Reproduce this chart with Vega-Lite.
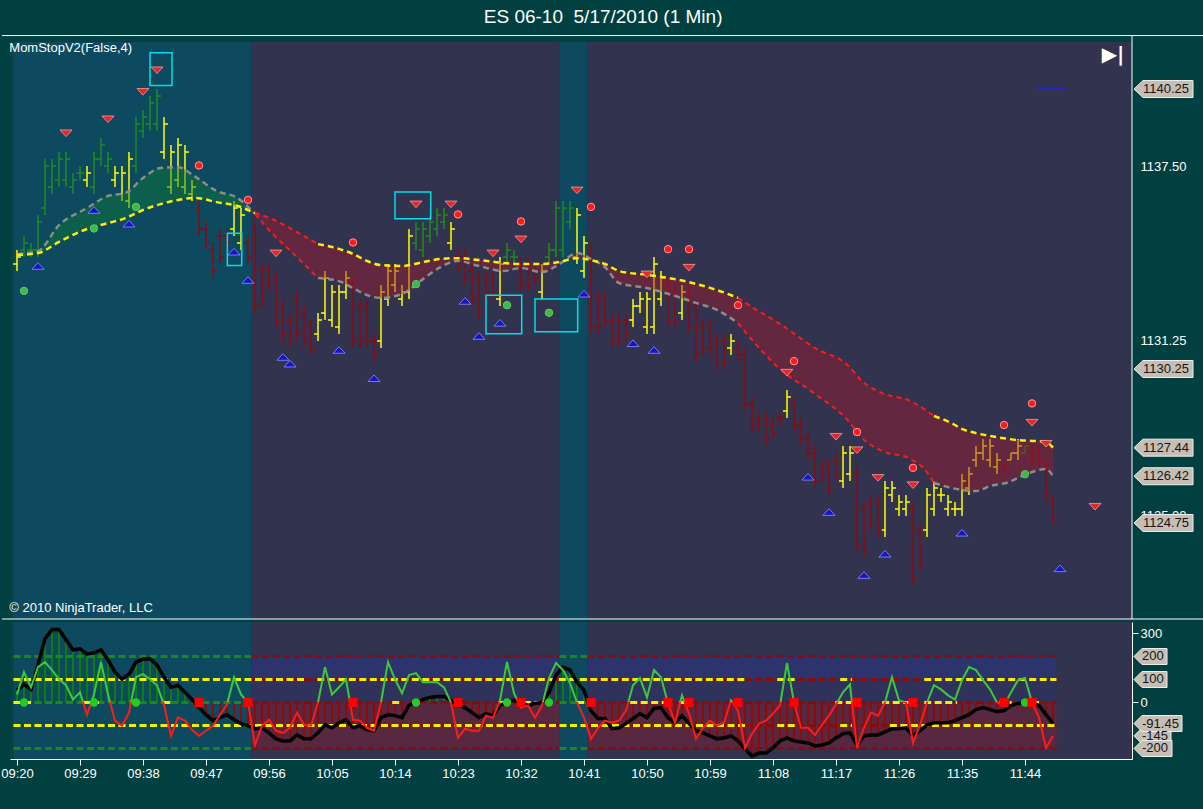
{
  "$schema": "https://vega.github.io/schema/vega-lite/v6.json",
  "description": "ES 06-10 1 minute bars with MomStopV2 bands and oscillator",
  "background": "#004040",
  "padding": {"left": 0, "top": 8, "right": 0, "bottom": 30},
  "title": {
    "text": "ES 06-10\u00a0 5/17/2010 (1 Min)",
    "color": "#ffffff",
    "font": "Liberation Sans",
    "fontSize": 19,
    "fontWeight": "normal",
    "anchor": "middle",
    "frame": "bounds",
    "offset": 8
  },
  "config": {
    "view": {"stroke": null},
    "font": "Liberation Sans",
    "axis": {
      "labelColor": "#ffffff",
      "tickColor": "#ffffff",
      "domainColor": "#ffffff",
      "labelFont": "Liberation Sans",
      "labelFontSize": 13,
      "grid": false
    }
  },
  "spacing": 2,
  "datasets": {
    "bg": [
      {"a": -1, "b": -0.5, "k": "p"},
      {"a": -0.5, "b": 33.5, "k": "t"},
      {"a": 33.5, "b": 77.5, "k": "s"},
      {"a": 77.5, "b": 81.5, "k": "t"},
      {"a": 81.5, "b": 159.2857, "k": "s"}
    ],
    "bars": [
      {"i":0,"o":1134,"h":1134.5,"l":1133.75,"c":1134.25,"k":"y"},
      {"i":1,"o":1134.5,"h":1135,"l":1134.25,"c":1134.75,"k":"g"},
      {"i":2,"o":1134.5,"h":1134.75,"l":1134.25,"c":1134.5,"k":"g"},
      {"i":3,"o":1134.5,"h":1135.75,"l":1134.25,"c":1135.5,"k":"g"},
      {"i":4,"o":1136,"h":1137.75,"l":1135.75,"c":1137.5,"k":"g"},
      {"i":5,"o":1136.75,"h":1137.75,"l":1136.5,"c":1137.5,"k":"g"},
      {"i":6,"o":1137,"h":1138,"l":1136.75,"c":1137.75,"k":"g"},
      {"i":7,"o":1137,"h":1138,"l":1136.75,"c":1137.75,"k":"g"},
      {"i":8,"o":1136.75,"h":1137.25,"l":1136.5,"c":1137,"k":"g"},
      {"i":9,"o":1137.25,"h":1137.5,"l":1137,"c":1137.25,"k":"g"},
      {"i":10,"o":1137,"h":1137.5,"l":1136.75,"c":1137.25,"k":"y"},
      {"i":11,"o":1136.75,"h":1138,"l":1136.5,"c":1137.75,"k":"g"},
      {"i":12,"o":1137.75,"h":1138.5,"l":1137.5,"c":1138.25,"k":"g"},
      {"i":13,"o":1137.5,"h":1138,"l":1137.25,"c":1137.75,"k":"g"},
      {"i":14,"o":1137,"h":1137.5,"l":1136.75,"c":1137.25,"k":"y"},
      {"i":15,"o":1136.5,"h":1137.5,"l":1136.25,"c":1137.25,"k":"y"},
      {"i":16,"o":1136.25,"h":1138,"l":1136,"c":1137.75,"k":"y"},
      {"i":17,"o":1137.5,"h":1139.25,"l":1137.25,"c":1139,"k":"g"},
      {"i":18,"o":1138.75,"h":1139.5,"l":1138.5,"c":1139.25,"k":"g"},
      {"i":19,"o":1139,"h":1140,"l":1138.75,"c":1139.75,"k":"g"},
      {"i":20,"o":1139,"h":1140.25,"l":1138.75,"c":1140,"k":"g"},
      {"i":21,"o":1138,"h":1139.25,"l":1137.75,"c":1139,"k":"y"},
      {"i":22,"o":1136.75,"h":1138.25,"l":1136.5,"c":1138,"k":"y"},
      {"i":23,"o":1137,"h":1138.5,"l":1136.75,"c":1138.25,"k":"y"},
      {"i":24,"o":1136.75,"h":1138.25,"l":1136.5,"c":1138,"k":"y"},
      {"i":25,"o":1136.5,"h":1137,"l":1136.25,"c":1136.75,"k":"y"},
      {"i":26,"o":1136,"h":1136.25,"l":1135,"c":1135.25,"k":"r"},
      {"i":27,"o":1135.25,"h":1135.5,"l":1134.5,"c":1134.75,"k":"r"},
      {"i":28,"o":1134.5,"h":1134.75,"l":1133.5,"c":1133.75,"k":"r"},
      {"i":29,"o":1135,"h":1135.25,"l":1134,"c":1134.25,"k":"r"},
      {"i":30,"o":1135,"h":1135.25,"l":1134.5,"c":1134.75,"k":"r"},
      {"i":31,"o":1135.25,"h":1136.25,"l":1135,"c":1136,"k":"y"},
      {"i":32,"o":1134.75,"h":1136,"l":1134.5,"c":1135.75,"k":"y"},
      {"i":33,"o":1134.75,"h":1135,"l":1134,"c":1134.25,"k":"r"},
      {"i":34,"o":1135.25,"h":1135.5,"l":1132.25,"c":1132.5,"k":"r"},
      {"i":35,"o":1133.75,"h":1134,"l":1132.5,"c":1132.75,"k":"r"},
      {"i":36,"o":1133.75,"h":1134,"l":1133,"c":1133.25,"k":"r"},
      {"i":37,"o":1133.5,"h":1133.75,"l":1131.75,"c":1132,"k":"r"},
      {"i":38,"o":1132.5,"h":1132.75,"l":1131.25,"c":1131.5,"k":"r"},
      {"i":39,"o":1132,"h":1132.25,"l":1131,"c":1131.25,"k":"r"},
      {"i":40,"o":1132.75,"h":1133,"l":1131.25,"c":1131.5,"k":"r"},
      {"i":41,"o":1132.25,"h":1132.5,"l":1131,"c":1131.25,"k":"r"},
      {"i":42,"o":1131.75,"h":1132,"l":1130.75,"c":1131,"k":"r"},
      {"i":43,"o":1131.5,"h":1132.25,"l":1131.25,"c":1132,"k":"y"},
      {"i":44,"o":1132.25,"h":1133.75,"l":1132,"c":1133.5,"k":"y"},
      {"i":45,"o":1132,"h":1133.25,"l":1131.75,"c":1133,"k":"y"},
      {"i":46,"o":1131.75,"h":1133.25,"l":1131.5,"c":1133,"k":"y"},
      {"i":47,"o":1133,"h":1133.75,"l":1132.75,"c":1133.5,"k":"y"},
      {"i":48,"o":1133.25,"h":1133.5,"l":1131,"c":1131.25,"k":"r"},
      {"i":49,"o":1132.5,"h":1132.75,"l":1131,"c":1131.25,"k":"r"},
      {"i":50,"o":1132.5,"h":1132.75,"l":1131,"c":1131.25,"k":"r"},
      {"i":51,"o":1131.25,"h":1131.5,"l":1130.5,"c":1130.75,"k":"r"},
      {"i":52,"o":1131.25,"h":1133.25,"l":1131,"c":1133,"k":"y"},
      {"i":53,"o":1132.75,"h":1134,"l":1132.5,"c":1133.75,"k":"y"},
      {"i":54,"o":1133.25,"h":1134,"l":1133,"c":1133.75,"k":"y"},
      {"i":55,"o":1132.75,"h":1133.25,"l":1132.5,"c":1133,"k":"y"},
      {"i":56,"o":1133,"h":1135.25,"l":1132.75,"c":1135,"k":"y"},
      {"i":57,"o":1134.75,"h":1135.5,"l":1134.5,"c":1135.25,"k":"g"},
      {"i":58,"o":1134.5,"h":1135.5,"l":1134.25,"c":1135.25,"k":"g"},
      {"i":59,"o":1135,"h":1135.75,"l":1134.75,"c":1135.5,"k":"g"},
      {"i":60,"o":1135.25,"h":1136,"l":1135,"c":1135.75,"k":"g"},
      {"i":61,"o":1135.5,"h":1136,"l":1135.25,"c":1135.75,"k":"g"},
      {"i":62,"o":1134.75,"h":1135.5,"l":1134.5,"c":1135.25,"k":"y"},
      {"i":63,"o":1134.25,"h":1134.5,"l":1133.75,"c":1134,"k":"r"},
      {"i":64,"o":1134.25,"h":1134.5,"l":1133.25,"c":1133.5,"k":"r"},
      {"i":65,"o":1133.75,"h":1134,"l":1132.5,"c":1132.75,"k":"r"},
      {"i":66,"o":1133.5,"h":1133.75,"l":1132,"c":1132.25,"k":"r"},
      {"i":67,"o":1133.5,"h":1133.75,"l":1132.75,"c":1133,"k":"r"},
      {"i":68,"o":1133.5,"h":1133.75,"l":1132.75,"c":1133,"k":"r"},
      {"i":69,"o":1132.75,"h":1134.25,"l":1132.5,"c":1134,"k":"y"},
      {"i":70,"o":1134.25,"h":1134.75,"l":1134,"c":1134.5,"k":"g"},
      {"i":71,"o":1134.25,"h":1134.5,"l":1134,"c":1134.25,"k":"g"},
      {"i":72,"o":1134,"h":1134.25,"l":1133,"c":1133.25,"k":"r"},
      {"i":73,"o":1134,"h":1134.25,"l":1133,"c":1133.25,"k":"r"},
      {"i":74,"o":1133.75,"h":1134,"l":1133.25,"c":1133.5,"k":"r"},
      {"i":75,"o":1133,"h":1134,"l":1132.75,"c":1133.75,"k":"y"},
      {"i":76,"o":1134.25,"h":1134.75,"l":1134,"c":1134.5,"k":"g"},
      {"i":77,"o":1134.5,"h":1136.25,"l":1134.25,"c":1136,"k":"g"},
      {"i":78,"o":1134.5,"h":1136.25,"l":1134.25,"c":1136,"k":"g"},
      {"i":79,"o":1135.5,"h":1136.25,"l":1135.25,"c":1136,"k":"g"},
      {"i":80,"o":1134.25,"h":1136,"l":1134,"c":1135.75,"k":"y"},
      {"i":81,"o":1133.75,"h":1135,"l":1133.5,"c":1134.75,"k":"y"},
      {"i":82,"o":1134.5,"h":1134.75,"l":1131.5,"c":1131.75,"k":"r"},
      {"i":83,"o":1132.75,"h":1133,"l":1131.5,"c":1131.75,"k":"r"},
      {"i":84,"o":1132.75,"h":1133,"l":1131.75,"c":1132,"k":"r"},
      {"i":85,"o":1132,"h":1132.25,"l":1131,"c":1131.25,"k":"r"},
      {"i":86,"o":1132,"h":1132.25,"l":1131,"c":1131.25,"k":"r"},
      {"i":87,"o":1132,"h":1132.25,"l":1131.25,"c":1131.5,"k":"r"},
      {"i":88,"o":1132,"h":1132.75,"l":1131.75,"c":1132.5,"k":"y"},
      {"i":89,"o":1132.5,"h":1133,"l":1132.25,"c":1132.75,"k":"y"},
      {"i":90,"o":1131.75,"h":1133,"l":1131.5,"c":1132.75,"k":"y"},
      {"i":91,"o":1131.75,"h":1134.25,"l":1131.5,"c":1134,"k":"y"},
      {"i":92,"o":1132.75,"h":1133.75,"l":1132.5,"c":1133.5,"k":"y"},
      {"i":93,"o":1133.25,"h":1133.5,"l":1131.75,"c":1132,"k":"r"},
      {"i":94,"o":1133,"h":1133.25,"l":1131.75,"c":1132,"k":"r"},
      {"i":95,"o":1132.25,"h":1133.25,"l":1132,"c":1133,"k":"y"},
      {"i":96,"o":1133,"h":1133.25,"l":1131.5,"c":1131.75,"k":"r"},
      {"i":97,"o":1132.5,"h":1132.75,"l":1130.5,"c":1130.75,"k":"r"},
      {"i":98,"o":1131.75,"h":1132,"l":1130.75,"c":1131,"k":"r"},
      {"i":99,"o":1131.75,"h":1132,"l":1130.75,"c":1131,"k":"r"},
      {"i":100,"o":1131.25,"h":1131.5,"l":1130.25,"c":1130.5,"k":"r"},
      {"i":101,"o":1131.25,"h":1131.5,"l":1130.25,"c":1130.5,"k":"r"},
      {"i":102,"o":1131,"h":1131.5,"l":1130.75,"c":1131.25,"k":"y"},
      {"i":103,"o":1131,"h":1131.25,"l":1130.5,"c":1130.75,"k":"r"},
      {"i":104,"o":1130.75,"h":1131,"l":1128.75,"c":1129,"k":"r"},
      {"i":105,"o":1129,"h":1129.25,"l":1128,"c":1128.25,"k":"r"},
      {"i":106,"o":1128.5,"h":1128.75,"l":1128,"c":1128.25,"k":"r"},
      {"i":107,"o":1128.5,"h":1128.75,"l":1127.5,"c":1127.75,"k":"r"},
      {"i":108,"o":1128.25,"h":1128.5,"l":1127.75,"c":1128,"k":"r"},
      {"i":109,"o":1128.5,"h":1128.75,"l":1128.25,"c":1128.5,"k":"r"},
      {"i":110,"o":1128.75,"h":1129.5,"l":1128.5,"c":1129.25,"k":"y"},
      {"i":111,"o":1129,"h":1129.25,"l":1128,"c":1128.25,"k":"r"},
      {"i":112,"o":1128.25,"h":1128.5,"l":1127.5,"c":1127.75,"k":"r"},
      {"i":113,"o":1127.75,"h":1128,"l":1127,"c":1127.25,"k":"r"},
      {"i":114,"o":1127.25,"h":1127.5,"l":1126,"c":1126.25,"k":"r"},
      {"i":115,"o":1126.75,"h":1127,"l":1126.25,"c":1126.5,"k":"r"},
      {"i":116,"o":1126.75,"h":1127,"l":1125.75,"c":1126,"k":"r"},
      {"i":117,"o":1127,"h":1127.25,"l":1126.25,"c":1126.5,"k":"r"},
      {"i":118,"o":1126.25,"h":1127.5,"l":1126,"c":1127.25,"k":"y"},
      {"i":119,"o":1126.5,"h":1127.5,"l":1126.25,"c":1127.25,"k":"y"},
      {"i":120,"o":1126.5,"h":1126.75,"l":1123.75,"c":1124,"k":"r"},
      {"i":121,"o":1125.25,"h":1125.5,"l":1123.5,"c":1123.75,"k":"r"},
      {"i":122,"o":1125.5,"h":1125.75,"l":1124.5,"c":1124.75,"k":"r"},
      {"i":123,"o":1125.5,"h":1125.75,"l":1124.25,"c":1124.5,"k":"r"},
      {"i":124,"o":1124.5,"h":1126.25,"l":1124.25,"c":1126,"k":"y"},
      {"i":125,"o":1125.75,"h":1126.25,"l":1125.5,"c":1126,"k":"y"},
      {"i":126,"o":1125.25,"h":1125.75,"l":1125,"c":1125.5,"k":"y"},
      {"i":127,"o":1125.25,"h":1125.75,"l":1125,"c":1125.5,"k":"y"},
      {"i":128,"o":1125.25,"h":1125.5,"l":1122.5,"c":1122.75,"k":"r"},
      {"i":129,"o":1124.5,"h":1124.75,"l":1123,"c":1123.25,"k":"r"},
      {"i":130,"o":1124.5,"h":1126,"l":1124.25,"c":1125.75,"k":"y"},
      {"i":131,"o":1125.25,"h":1126.25,"l":1125,"c":1126,"k":"y"},
      {"i":132,"o":1125.75,"h":1126,"l":1125.5,"c":1125.75,"k":"y"},
      {"i":133,"o":1125.25,"h":1125.75,"l":1125,"c":1125.5,"k":"y"},
      {"i":134,"o":1125.25,"h":1125.5,"l":1125,"c":1125.25,"k":"y"},
      {"i":135,"o":1125.25,"h":1126.5,"l":1125,"c":1126.25,"k":"y"},
      {"i":136,"o":1126,"h":1126.75,"l":1125.75,"c":1126.5,"k":"y"},
      {"i":137,"o":1127,"h":1127.5,"l":1126.75,"c":1127.25,"k":"y"},
      {"i":138,"o":1127.25,"h":1127.75,"l":1127,"c":1127.5,"k":"y"},
      {"i":139,"o":1127,"h":1127.75,"l":1126.75,"c":1127.5,"k":"y"},
      {"i":140,"o":1126.75,"h":1127.25,"l":1126.5,"c":1127,"k":"y"},
      {"i":141,"o":1126.75,"h":1127,"l":1126.5,"c":1126.75,"k":"r"},
      {"i":142,"o":1127,"h":1127.25,"l":1127,"c":1127.25,"k":"y"},
      {"i":143,"o":1127.25,"h":1127.75,"l":1127,"c":1127.5,"k":"y"},
      {"i":144,"o":1127.25,"h":1127.5,"l":1127.25,"c":1127.5,"k":"g"},
      {"i":145,"o":1127.25,"h":1127.5,"l":1126.75,"c":1127,"k":"r"},
      {"i":146,"o":1127.25,"h":1127.5,"l":1126.75,"c":1127,"k":"r"},
      {"i":147,"o":1126.75,"h":1127,"l":1125.5,"c":1125.75,"k":"r"},
      {"i":148,"o":1125.5,"h":1125.75,"l":1124.75,"c":1124.75,"k":"r"}
    ],
    "ma": [
      {"i":0,"m1":1134.32,"m2":1134.36,"s":"a"},
      {"i":3,"m1":1134.39,"m2":1134.46,"s":"a"},
      {"i":6,"m1":1134.79,"m2":1135.39,"s":"a"},
      {"i":10,"m1":1135.25,"m2":1136.0,"s":"a"},
      {"i":13,"m1":1135.46,"m2":1136.43,"s":"a"},
      {"i":15.5,"m1":1135.64,"m2":1136.54,"s":"a"},
      {"i":18,"m1":1135.93,"m2":1137.07,"s":"a"},
      {"i":20.5,"m1":1136.14,"m2":1137.43,"s":"a"},
      {"i":23,"m1":1136.29,"m2":1137.46,"s":"a"},
      {"i":25.5,"m1":1136.36,"m2":1137.11,"s":"a"},
      {"i":28.5,"m1":1136.21,"m2":1136.61,"s":"a"},
      {"i":31.5,"m1":1136.07,"m2":1136.36,"s":"a"},
      {"i":34,"m1":1135.82,"m2":1135.79,"s":"a"},
      {"i":34,"m1":1135.82,"m2":1135.79,"s":"b"},
      {"i":36.4,"m1":1135.61,"m2":1135.11,"s":"b"},
      {"i":40,"m1":1135.14,"m2":1134.25,"s":"b"},
      {"i":43,"m1":1134.71,"m2":1133.5,"s":"b"},
      {"i":43,"m1":1134.71,"m2":1133.5,"s":"c"},
      {"i":46,"m1":1134.54,"m2":1133.39,"s":"c"},
      {"i":48,"m1":1134.36,"m2":1133.14,"s":"c"},
      {"i":50,"m1":1134.11,"m2":1132.89,"s":"c"},
      {"i":52,"m1":1133.96,"m2":1132.79,"s":"c"},
      {"i":55,"m1":1133.93,"m2":1132.93,"s":"c"},
      {"i":58,"m1":1134.07,"m2":1133.46,"s":"c"},
      {"i":60.5,"m1":1134.18,"m2":1133.89,"s":"c"},
      {"i":63,"m1":1134.21,"m2":1134.11,"s":"c"},
      {"i":66,"m1":1134.14,"m2":1133.93,"s":"c"},
      {"i":69.5,"m1":1134.04,"m2":1133.75,"s":"c"},
      {"i":72,"m1":1134.0,"m2":1133.86,"s":"c"},
      {"i":75,"m1":1134.0,"m2":1133.71,"s":"c"},
      {"i":77.5,"m1":1134.07,"m2":1134.0,"s":"c"},
      {"i":80,"m1":1134.21,"m2":1134.39,"s":"c"},
      {"i":82,"m1":1134.14,"m2":1134.18,"s":"c"},
      {"i":84,"m1":1134.0,"m2":1133.89,"s":"c"},
      {"i":86,"m1":1133.75,"m2":1133.32,"s":"c"},
      {"i":90,"m1":1133.61,"m2":1133.14,"s":"c"},
      {"i":94,"m1":1133.46,"m2":1132.86,"s":"c"},
      {"i":97,"m1":1133.29,"m2":1132.61,"s":"c"},
      {"i":100,"m1":1133.07,"m2":1132.36,"s":"c"},
      {"i":103,"m1":1132.79,"m2":1131.89,"s":"c"},
      {"i":103,"m1":1132.79,"m2":1131.89,"s":"d"},
      {"i":105,"m1":1132.46,"m2":1131.29,"s":"d"},
      {"i":109,"m1":1131.86,"m2":1130.25,"s":"d"},
      {"i":114,"m1":1131.0,"m2":1129.36,"s":"d"},
      {"i":118.8,"m1":1130.36,"m2":1128.39,"s":"d"},
      {"i":120.7,"m1":1129.82,"m2":1127.79,"s":"d"},
      {"i":123.6,"m1":1129.39,"m2":1127.32,"s":"d"},
      {"i":127.6,"m1":1129.11,"m2":1127.04,"s":"d"},
      {"i":129.6,"m1":1128.82,"m2":1126.68,"s":"d"},
      {"i":131,"m1":1128.57,"m2":1126.18,"s":"d"},
      {"i":131,"m1":1128.57,"m2":1126.18,"s":"e"},
      {"i":133.5,"m1":1128.32,"m2":1126.0,"s":"e"},
      {"i":135,"m1":1128.11,"m2":1125.93,"s":"e"},
      {"i":137,"m1":1127.96,"m2":1125.89,"s":"e"},
      {"i":139,"m1":1127.86,"m2":1126.07,"s":"e"},
      {"i":141.7,"m1":1127.75,"m2":1126.21,"s":"e"},
      {"i":143,"m1":1127.71,"m2":1126.36,"s":"e"},
      {"i":145.5,"m1":1127.68,"m2":1126.61,"s":"e"},
      {"i":147,"m1":1127.64,"m2":1126.68,"s":"e"},
      {"i":148,"m1":1127.44,"m2":1126.42,"s":"e"}
    ],
    "sig": [
      {"i":7,"p":1138.67,"k":"dn"},{"i":13,"p":1139.17,"k":"dn"},{"i":18,"p":1140.15,"k":"dn"},{"i":20,"p":1140.92,"k":"dn"},
      {"i":37,"p":1134.38,"k":"dn"},{"i":57,"p":1136.13,"k":"dn"},{"i":62,"p":1136.13,"k":"dn"},{"i":68,"p":1134.38,"k":"dn"},
      {"i":72,"p":1134.88,"k":"dn"},{"i":80,"p":1136.63,"k":"dn"},{"i":90,"p":1133.63,"k":"dn"},{"i":96,"p":1133.87,"k":"dn"},
      {"i":110,"p":1130.12,"k":"dn"},{"i":117,"p":1127.83,"k":"dn"},{"i":120,"p":1127.35,"k":"dn"},{"i":123,"p":1126.36,"k":"dn"},
      {"i":128,"p":1126.1,"k":"dn"},{"i":145,"p":1128.33,"k":"dn"},{"i":147,"p":1127.58,"k":"dn"},{"i":154,"p":1125.33,"k":"dn"},
      {"i":3,"p":1133.93,"k":"up"},{"i":11,"p":1135.93,"k":"up"},{"i":16,"p":1135.44,"k":"up"},{"i":31,"p":1134.44,"k":"up"},
      {"i":33,"p":1133.43,"k":"up"},{"i":38,"p":1130.68,"k":"up"},{"i":39,"p":1130.44,"k":"up"},{"i":46,"p":1130.93,"k":"up"},
      {"i":51,"p":1129.92,"k":"up"},{"i":64,"p":1132.68,"k":"up"},{"i":66,"p":1131.43,"k":"up"},{"i":69,"p":1131.9,"k":"up"},
      {"i":81,"p":1132.94,"k":"up"},{"i":88,"p":1131.17,"k":"up"},{"i":91,"p":1130.93,"k":"up"},{"i":113,"p":1126.4,"k":"up"},
      {"i":116,"p":1125.14,"k":"up"},{"i":121,"p":1122.89,"k":"up"},{"i":124,"p":1123.65,"k":"up"},{"i":135,"p":1124.4,"k":"up"},
      {"i":149,"p":1123.13,"k":"up"},
      {"i":26,"p":1137.52,"k":"rc"},{"i":33,"p":1136.29,"k":"rc"},{"i":48,"p":1134.77,"k":"rc"},{"i":63,"p":1135.77,"k":"rc"},
      {"i":72,"p":1135.52,"k":"rc"},{"i":82,"p":1136.04,"k":"rc"},{"i":93,"p":1134.53,"k":"rc"},{"i":96,"p":1134.53,"k":"rc"},
      {"i":103,"p":1132.53,"k":"rc"},{"i":111,"p":1130.53,"k":"rc"},{"i":120,"p":1128.0,"k":"rc"},{"i":128,"p":1126.72,"k":"rc"},
      {"i":141,"p":1128.25,"k":"rc"},{"i":145,"p":1129.02,"k":"rc"},
      {"i":1,"p":1133.04,"k":"gc"},{"i":11,"p":1135.27,"k":"gc"},{"i":17,"p":1136.04,"k":"gc"},{"i":57,"p":1133.28,"k":"gc"},
      {"i":70,"p":1132.53,"k":"gc"},{"i":76,"p":1132.26,"k":"gc"},{"i":144,"p":1126.49,"k":"gc"}
    ],
    "box": [
      {"a":19.0,"b":22.14,"p1":1141.55,"p2":1140.38},
      {"a":30.05,"b":32.1,"p1":1135.1,"p2":1133.95},
      {"a":54.0,"b":59.1,"p1":1136.57,"p2":1135.62},
      {"a":67.0,"b":72.1,"p1":1132.88,"p2":1131.51},
      {"a":74.0,"b":80.1,"p1":1132.75,"p2":1131.58}
    ],
    "ptag": [
      {"p":1140.25,"t":"1140.25"},
      {"p":1130.25,"t":"1130.25"},
      {"p":1127.44,"t":"1127.44"},
      {"p":1126.42,"t":"1126.42"},
      {"p":1124.75,"t":"1124.75"}
    ],
    "osc": [
      {"i":0,"b":53,"o":35},{"i":1,"b":79,"o":132},{"i":2,"b":57,"o":66},{"i":3,"b":163,"o":154},{"i":4,"b":277,"o":176},
      {"i":5,"b":317,"o":141},{"i":6,"b":317,"o":101},{"i":7,"b":273,"o":75},{"i":8,"b":229,"o":13},{"i":9,"b":233,"o":44},
      {"i":10,"b":211,"o":-53},{"i":11,"b":216,"o":35},{"i":12,"b":229,"o":176},{"i":13,"b":185,"o":35},{"i":14,"b":132,"o":-79},
      {"i":15,"b":101,"o":-101},{"i":16,"b":123,"o":-44},{"i":17,"b":176,"o":110},{"i":18,"b":189,"o":123},{"i":19,"b":189,"o":101},
      {"i":20,"b":163,"o":75},{"i":21,"b":110,"o":-9},{"i":22,"b":66,"o":-145},{"i":23,"b":75,"o":-66},{"i":24,"b":44,"o":-79},
      {"i":25,"b":13,"o":-119},{"i":26,"b":-22,"o":-145},{"i":27,"b":-53,"o":-123},{"i":28,"b":-79,"o":-101},{"i":29,"b":-66,"o":-53},
      {"i":30,"b":-53,"o":-9},{"i":31,"b":-75,"o":110},{"i":32,"b":-92,"o":35},{"i":33,"b":-101,"o":0},{"i":34,"b":-114,"o":-185},
      {"i":35,"b":-110,"o":-101},{"i":36,"b":-132,"o":-75},{"i":37,"b":-158,"o":-123},{"i":38,"b":-167,"o":-132},{"i":39,"b":-167,"o":-110},
      {"i":40,"b":-141,"o":-44},{"i":41,"b":-158,"o":-97},{"i":42,"b":-158,"o":-101},{"i":43,"b":-132,"o":0},{"i":44,"b":-97,"o":154},
      {"i":45,"b":-110,"o":35},{"i":46,"b":-88,"o":66},{"i":47,"b":-75,"o":101},{"i":48,"b":-110,"o":-75},{"i":49,"b":-101,"o":-79},
      {"i":50,"b":-119,"o":-110},{"i":51,"b":-123,"o":-123},{"i":52,"b":-66,"o":0},{"i":53,"b":-53,"o":176},{"i":54,"b":-57,"o":101},
      {"i":55,"b":-66,"o":40},{"i":56,"b":-13,"o":119},{"i":57,"b":0,"o":128},{"i":58,"b":13,"o":88},{"i":59,"b":22,"o":88},
      {"i":60,"b":26,"o":88},{"i":61,"b":26,"o":66},{"i":62,"b":9,"o":0},{"i":63,"b":-13,"o":-154},{"i":64,"b":-22,"o":-114},
      {"i":65,"b":-44,"o":-123},{"i":66,"b":-66,"o":-123},{"i":67,"b":-48,"o":-57},{"i":68,"b":-57,"o":-66},{"i":69,"b":-13,"o":9},
      {"i":70,"b":0,"o":176},{"i":71,"b":9,"o":40},{"i":72,"b":0,"o":-22},{"i":73,"b":-13,"o":-13},{"i":74,"b":-4,"o":-66},
      {"i":75,"b":0,"o":-13},{"i":76,"b":44,"o":106},{"i":77,"b":119,"o":172},{"i":78,"b":154,"o":141},{"i":79,"b":141,"o":84},
      {"i":80,"b":88,"o":0},{"i":81,"b":53,"o":-66},{"i":82,"b":-35,"o":-158},{"i":83,"b":-70,"o":-110},{"i":84,"b":-70,"o":-79},
      {"i":85,"b":-114,"o":-88},{"i":86,"b":-110,"o":-79},{"i":87,"b":-92,"o":-35},{"i":88,"b":-70,"o":75},{"i":89,"b":-48,"o":106},
      {"i":90,"b":-66,"o":22},{"i":91,"b":-26,"o":141},{"i":92,"b":-22,"o":110},{"i":93,"b":-66,"o":-4},{"i":94,"b":-88,"o":-88},
      {"i":95,"b":-57,"o":31},{"i":96,"b":-92,"o":-48},{"i":97,"b":-123,"o":-158},{"i":98,"b":-132,"o":-110},{"i":99,"b":-145,"o":-79},
      {"i":100,"b":-158,"o":-101},{"i":101,"b":-154,"o":-88},{"i":102,"b":-145,"o":9},{"i":103,"b":-167,"o":-35},{"i":104,"b":-202,"o":-198},
      {"i":105,"b":-233,"o":-136},{"i":106,"b":-220,"o":-92},{"i":107,"b":-220,"o":-79},{"i":108,"b":-198,"o":-48},{"i":109,"b":-167,"o":-13},
      {"i":110,"b":-154,"o":172},{"i":111,"b":-167,"o":0},{"i":112,"b":-172,"o":-110},{"i":113,"b":-176,"o":-110},{"i":114,"b":-189,"o":-141},
      {"i":115,"b":-185,"o":-97},{"i":116,"b":-176,"o":-57},{"i":117,"b":-154,"o":-9},{"i":118,"b":-136,"o":44},{"i":119,"b":-132,"o":79},
      {"i":120,"b":-185,"o":-198},{"i":121,"b":-145,"o":-110},{"i":122,"b":-141,"o":-44},{"i":123,"b":-141,"o":-57},{"i":124,"b":-128,"o":0},
      {"i":125,"b":-114,"o":110},{"i":126,"b":-114,"o":9},{"i":127,"b":-110,"o":0},{"i":128,"b":-145,"o":-176},{"i":129,"b":-123,"o":-97},
      {"i":130,"b":-97,"o":0},{"i":131,"b":-88,"o":75},{"i":132,"b":-88,"o":57},{"i":133,"b":-88,"o":31},{"i":134,"b":-79,"o":13},
      {"i":135,"b":-66,"o":97},{"i":136,"b":-53,"o":154},{"i":137,"b":-31,"o":141},{"i":138,"b":-22,"o":97},{"i":139,"b":-31,"o":57},
      {"i":140,"b":-40,"o":0},{"i":141,"b":-35,"o":-13},{"i":142,"b":-13,"o":44},{"i":143,"b":-4,"o":97},{"i":144,"b":0,"o":106},
      {"i":145,"b":0,"o":0},{"i":146,"b":-13,"o":-66},{"i":147,"b":-53,"o":-198},{"i":148,"b":-91.45,"o":-145}
    ],
    "band": [
      {"a":33.5,"b":77.5,"v1":100,"v2":200,"k":"hb"},
      {"a":81.5,"b":148.5,"v1":100,"v2":200,"k":"hb"},
      {"a":33.5,"b":77.5,"v1":0,"v2":100,"k":"mb"},
      {"a":81.5,"b":148.5,"v1":0,"v2":100,"k":"mb"},
      {"a":33.5,"b":77.5,"v1":-200,"v2":0,"k":"lb"},
      {"a":81.5,"b":148.5,"v1":-200,"v2":0,"k":"lb"}
    ],
    "lv": [
      {"a":-0.5,"b":33.5,"v":200,"k":"g"},{"a":33.5,"b":77.5,"v":200,"k":"r"},{"a":77.5,"b":81.5,"v":200,"k":"g"},{"a":81.5,"b":148.5,"v":200,"k":"r"},
      {"a":-0.5,"b":33.5,"v":100,"k":"g"},{"a":33.5,"b":77.5,"v":100,"k":"r"},{"a":77.5,"b":81.5,"v":100,"k":"g"},{"a":81.5,"b":148.5,"v":100,"k":"r"},
      {"a":-0.5,"b":33.5,"v":0,"k":"g"},{"a":33.5,"b":77.5,"v":0,"k":"r"},{"a":77.5,"b":81.5,"v":0,"k":"g"},{"a":81.5,"b":148.5,"v":0,"k":"r"},
      {"a":-0.5,"b":33.5,"v":-100,"k":"g"},{"a":33.5,"b":77.5,"v":-100,"k":"r"},{"a":77.5,"b":81.5,"v":-100,"k":"g"},{"a":81.5,"b":148.5,"v":-100,"k":"r"},
      {"a":-0.5,"b":33.5,"v":-200,"k":"g"},{"a":33.5,"b":77.5,"v":-200,"k":"r"},{"a":77.5,"b":81.5,"v":-200,"k":"g"},{"a":81.5,"b":148.5,"v":-200,"k":"r"},
      {"a":-0.5,"b":41.4,"v":100,"k":"y"},{"a":42.9,"b":104.3,"v":100,"k":"y"},{"a":108.6,"b":111.4,"v":100,"k":"y"},{"a":117.6,"b":119.3,"v":100,"k":"y"},{"a":129.6,"b":148.5,"v":100,"k":"y"},
      {"a":-0.5,"b":104.3,"v":-100,"k":"y"},{"a":108.6,"b":111.4,"v":-100,"k":"y"},{"a":117.6,"b":119.3,"v":-100,"k":"y"},{"a":124.7,"b":148.5,"v":-100,"k":"y"},
      {"a":-0.5,"b":2.4,"v":0,"k":"y"},{"a":9.5,"b":11.7,"v":0,"k":"y"},{"a":16.2,"b":17.4,"v":0,"k":"y"},{"a":20.9,"b":22.4,"v":0,"k":"y"},
      {"a":53.6,"b":55,"v":0,"k":"y"},{"a":68.8,"b":70,"v":0,"k":"y"},{"a":72.4,"b":75.4,"v":0,"k":"y"},{"a":80,"b":82,"v":0,"k":"y"},
      {"a":87.6,"b":93.1,"v":0,"k":"y"},{"a":94.6,"b":96,"v":0,"k":"y"},{"a":116.9,"b":120,"v":0,"k":"y"},{"a":123.6,"b":127.4,"v":0,"k":"y"},
      {"a":129.6,"b":134.3,"v":0,"k":"y"},{"a":140.3,"b":142.1,"v":0,"k":"y"},{"a":145,"b":146.4,"v":0,"k":"y"}
    ],
    "zm": [
      {"i":1,"k":"g"},{"i":11,"k":"g"},{"i":17,"k":"g"},{"i":57,"k":"g"},{"i":70,"k":"g"},{"i":76,"k":"g"},{"i":144,"k":"g"},
      {"i":26,"k":"r"},{"i":33,"k":"r"},{"i":48,"k":"r"},{"i":63,"k":"r"},{"i":72,"k":"r"},{"i":82,"k":"r"},{"i":93,"k":"r"},
      {"i":96,"k":"r"},{"i":103,"k":"r"},{"i":111,"k":"r"},{"i":120,"k":"r"},{"i":128,"k":"r"},{"i":141,"k":"r"},{"i":145,"k":"r"}
    ],
    "otag": [
      {"v":200,"t":"200"},
      {"v":100,"t":"100"},
      {"v":-145,"t":"-145"},
      {"v":-91.45,"t":"-91.45"},
      {"v":-200,"t":"-200"}
    ]
  },
  "vconcat": [
    {
      "width": 1122,
      "height": 577,
      "layer": [
        {
          "data": {"name": "bg"},
          "mark": {"type": "rect"},
          "encoding": {
            "x": {"field": "a", "type": "quantitative", "scale": {"domain": [-1, 159.2857], "nice": false, "zero": false}, "axis": null},
            "x2": {"field": "b"},
            "y": {"datum": 1141.93, "type": "quantitative", "scale": {"domain": [1121.32, 1141.93], "nice": false, "zero": false}},
            "y2": {"datum": 1121.32},
            "fill": {"field": "k", "type": "nominal", "scale": {"domain": ["p", "t", "s"], "range": ["#064444", "#0e4a5f", "#32334e"]}, "legend": null}
          }
        },
        {
          "data": {"name": "bars"},
          "mark": {"type": "rule", "strokeWidth": 1.5},
          "encoding": {
            "x": {"field": "i", "type": "quantitative", "axis": null},
            "y": {"field": "l", "type": "quantitative", "axis": {"orient": "right", "values": [1137.5, 1131.25, 1125], "format": ".2f", "ticks": false, "domain": false, "labelPadding": 8, "title": null}},
            "y2": {"field": "h"},
            "color": {"field": "k", "type": "nominal", "scale": {"domain": ["g", "y", "r"], "range": ["#1e8c1e", "#ffff00", "#8c0a12"]}, "legend": null}
          }
        },
        {
          "data": {"name": "bars"},
          "mark": {"type": "tick", "orient": "horizontal", "size": 4, "thickness": 1.5, "xOffset": -2, "opacity": 1},
          "encoding": {
            "x": {"field": "i", "type": "quantitative", "axis": null},
            "y": {"field": "o", "type": "quantitative"},
            "color": {"field": "k", "type": "nominal", "legend": null}
          }
        },
        {
          "data": {"name": "bars"},
          "mark": {"type": "tick", "orient": "horizontal", "size": 4, "thickness": 1.5, "xOffset": 2, "opacity": 1},
          "encoding": {
            "x": {"field": "i", "type": "quantitative", "axis": null},
            "y": {"field": "c", "type": "quantitative"},
            "color": {"field": "k", "type": "nominal", "legend": null}
          }
        },
        {
          "data": {"name": "ma"},
          "transform": [{"filter": "datum.s == 'a'"}],
          "mark": {"type": "area", "interpolate": "monotone", "color": "#0a7a30", "opacity": 0.45},
          "encoding": {
            "x": {"field": "i", "type": "quantitative", "axis": null},
            "y": {"field": "m1", "type": "quantitative"},
            "y2": {"field": "m2"},
            "detail": {"field": "s"}
          }
        },
        {
          "data": {"name": "ma"},
          "transform": [{"filter": "datum.s != 'a'"}],
          "mark": {"type": "area", "interpolate": "monotone", "color": "#a01830", "opacity": 0.45},
          "encoding": {
            "x": {"field": "i", "type": "quantitative", "axis": null},
            "y": {"field": "m1", "type": "quantitative"},
            "y2": {"field": "m2"},
            "detail": {"field": "s"}
          }
        },
        {
          "data": {"name": "ma"},
          "transform": [{"filter": "datum.s == 'a' || datum.s == 'c' || datum.s == 'e'"}],
          "mark": {"type": "line", "interpolate": "monotone", "color": "#8c8c8c", "strokeWidth": 2.5, "strokeDash": [6, 4]},
          "encoding": {
            "x": {"field": "i", "type": "quantitative", "axis": null},
            "y": {"field": "m2", "type": "quantitative"},
            "detail": {"field": "s"}
          }
        },
        {
          "data": {"name": "ma"},
          "transform": [{"filter": "datum.s == 'a' || datum.s == 'c' || datum.s == 'e'"}],
          "mark": {"type": "line", "interpolate": "monotone", "color": "#ffee00", "strokeWidth": 2.5, "strokeDash": [6, 4]},
          "encoding": {
            "x": {"field": "i", "type": "quantitative", "axis": null},
            "y": {"field": "m1", "type": "quantitative"},
            "detail": {"field": "s"}
          }
        },
        {
          "data": {"name": "ma"},
          "transform": [{"filter": "datum.s == 'b' || datum.s == 'd'"}],
          "mark": {"type": "line", "interpolate": "monotone", "color": "#ff1a1a", "strokeWidth": 2, "strokeDash": [5, 4]},
          "encoding": {
            "x": {"field": "i", "type": "quantitative", "axis": null},
            "y": {"field": "m1", "type": "quantitative"},
            "detail": {"field": "s"}
          }
        },
        {
          "data": {"name": "ma"},
          "transform": [{"filter": "datum.s == 'b' || datum.s == 'd'"}],
          "mark": {"type": "line", "interpolate": "monotone", "color": "#ff1a1a", "strokeWidth": 2, "strokeDash": [5, 4]},
          "encoding": {
            "x": {"field": "i", "type": "quantitative", "axis": null},
            "y": {"field": "m2", "type": "quantitative"},
            "detail": {"field": "s"}
          }
        },
        {
          "data": {"name": "sig"},
          "transform": [{"filter": "datum.k == 'dn'"}],
          "mark": {"type": "point", "shape": "M-1,-0.55L1,-0.55L0,0.55Z", "size": 144, "filled": true, "fill": "#e8262a", "stroke": "#f0a0a0", "strokeWidth": 0.8, "opacity": 1},
          "encoding": {
            "x": {"field": "i", "type": "quantitative", "axis": null},
            "y": {"field": "p", "type": "quantitative"}
          }
        },
        {
          "data": {"name": "sig"},
          "transform": [{"filter": "datum.k == 'up'"}],
          "mark": {"type": "point", "shape": "M-1,0.55L1,0.55L0,-0.55Z", "size": 144, "filled": true, "fill": "#1414c8", "stroke": "#9090ff", "strokeWidth": 0.8, "opacity": 1},
          "encoding": {
            "x": {"field": "i", "type": "quantitative", "axis": null},
            "y": {"field": "p", "type": "quantitative"}
          }
        },
        {
          "data": {"name": "sig"},
          "transform": [{"filter": "datum.k == 'rc'"}],
          "mark": {"type": "point", "shape": "circle", "size": 55, "filled": true, "fill": "#ff1a1a", "stroke": "#ff9a9a", "strokeWidth": 1, "opacity": 1},
          "encoding": {
            "x": {"field": "i", "type": "quantitative", "axis": null},
            "y": {"field": "p", "type": "quantitative"}
          }
        },
        {
          "data": {"name": "sig"},
          "transform": [{"filter": "datum.k == 'gc'"}],
          "mark": {"type": "point", "shape": "circle", "size": 55, "filled": true, "fill": "#40b848", "stroke": "#60c868", "strokeWidth": 1, "opacity": 1},
          "encoding": {
            "x": {"field": "i", "type": "quantitative", "axis": null},
            "y": {"field": "p", "type": "quantitative"}
          }
        },
        {
          "data": {"name": "box"},
          "mark": {"type": "rect", "filled": false, "stroke": "#00e0e8", "strokeWidth": 1.5},
          "encoding": {
            "x": {"field": "a", "type": "quantitative", "axis": null},
            "x2": {"field": "b"},
            "y": {"field": "p1", "type": "quantitative"},
            "y2": {"field": "p2"}
          }
        },
        {
          "data": {"values": [{"a": 145.7, "b": 149.7, "p": 1140.25}]},
          "mark": {"type": "rule", "color": "#2020ff", "strokeWidth": 1.5},
          "encoding": {
            "x": {"field": "a", "type": "quantitative", "axis": null},
            "x2": {"field": "b"},
            "y": {"field": "p", "type": "quantitative"}
          }
        },
        {
          "data": {"values": [{}]},
          "mark": {"type": "rule", "color": "#ffffff", "strokeWidth": 1},
          "encoding": {
            "x": {"datum": -2.1429, "type": "quantitative", "axis": null},
            "x2": {"datum": 169.71},
            "y": {"datum": 1142.16, "type": "quantitative"}
          }
        },
        {
          "data": {"values": [{}]},
          "mark": {"type": "rule", "color": "#ffffff", "strokeWidth": 1},
          "encoding": {
            "x": {"datum": -2.1429, "type": "quantitative", "axis": null},
            "x2": {"datum": 169.71},
            "y": {"datum": 1121.32, "type": "quantitative"}
          }
        },
        {
          "data": {"values": [{}]},
          "mark": {"type": "rule", "color": "#ffffff", "strokeWidth": 1},
          "encoding": {
            "x": {"datum": 159.2857, "type": "quantitative", "axis": null},
            "y": {"datum": 1142.16, "type": "quantitative"},
            "y2": {"datum": 1121.32}
          }
        },
        {
          "data": {"name": "ptag"},
          "mark": {"type": "point", "shape": "M0,0L9,-8.5L59,-8.5L59,8.5L9,8.5Z", "size": 4, "filled": true, "fill": "#c6beb4", "stroke": "#eeeeee", "strokeWidth": 1, "opacity": 1, "xOffset": 2},
          "encoding": {
            "x": {"value": "width"},
            "y": {"field": "p", "type": "quantitative"}
          }
        },
        {
          "data": {"name": "ptag"},
          "mark": {"type": "text", "align": "left", "baseline": "middle", "fontSize": 13, "color": "#151515", "xOffset": 11},
          "encoding": {
            "x": {"value": "width"},
            "y": {"field": "p", "type": "quantitative"},
            "text": {"field": "t"}
          }
        },
        {
          "data": {"values": [{"t": "MomStopV2(False,4)"}]},
          "mark": {"type": "text", "align": "left", "baseline": "middle", "fontSize": 13, "color": "#ffffff"},
          "encoding": {
            "x": {"datum": -1.1, "type": "quantitative", "axis": null},
            "y": {"datum": 1141.72, "type": "quantitative"},
            "text": {"field": "t"}
          }
        },
        {
          "data": {"values": [{"t": "© 2010 NinjaTrader, LLC"}]},
          "mark": {"type": "text", "align": "left", "baseline": "middle", "fontSize": 13, "color": "#ffffff"},
          "encoding": {
            "x": {"datum": -1.1, "type": "quantitative", "axis": null},
            "y": {"datum": 1121.72, "type": "quantitative"},
            "text": {"field": "t"}
          }
        },
        {
          "data": {"values": [{"t": "▶|"}]},
          "mark": {"type": "text", "align": "center", "baseline": "middle", "fontSize": 20, "fontWeight": "bold", "font": "DejaVu Sans", "color": "#ffffff"},
          "encoding": {
            "x": {"datum": 156.57, "type": "quantitative", "axis": null},
            "y": {"datum": 1141.45, "type": "quantitative"},
            "text": {"field": "t"}
          }
        }
      ]
    },
    {
      "width": 1122,
      "height": 137,
      "layer": [
        {
          "data": {"name": "bg"},
          "mark": {"type": "rect"},
          "encoding": {
            "x": {"field": "a", "type": "quantitative", "scale": {"domain": [-1, 159.2857], "nice": false, "zero": false}},
            "x2": {"field": "b"},
            "y": {"datum": 350, "type": "quantitative", "scale": {"domain": [-245.7, 350], "nice": false, "zero": false}},
            "y2": {"datum": -245.7},
            "fill": {"field": "k", "type": "nominal", "scale": {"domain": ["p", "t", "s"], "range": ["#064444", "#0e4a5f", "#32334e"]}, "legend": null}
          }
        },
        {
          "data": {"name": "band"},
          "transform": [{"filter": "datum.k == 'hb'"}],
          "mark": {"type": "rect", "color": "#1e32c8", "opacity": 0.25},
          "encoding": {
            "x": {"field": "a", "type": "quantitative"},
            "x2": {"field": "b"},
            "y": {"field": "v1", "type": "quantitative"},
            "y2": {"field": "v2"}
          }
        },
        {
          "data": {"name": "band"},
          "transform": [{"filter": "datum.k == 'mb'"}],
          "mark": {"type": "rect", "color": "#1e32c8", "opacity": 0.1},
          "encoding": {
            "x": {"field": "a", "type": "quantitative"},
            "x2": {"field": "b"},
            "y": {"field": "v1", "type": "quantitative"},
            "y2": {"field": "v2"}
          }
        },
        {
          "data": {"name": "band"},
          "transform": [{"filter": "datum.k == 'lb'"}],
          "mark": {"type": "rect", "color": "#b01020", "opacity": 0.3},
          "encoding": {
            "x": {"field": "a", "type": "quantitative"},
            "x2": {"field": "b"},
            "y": {"field": "v1", "type": "quantitative"},
            "y2": {"field": "v2"}
          }
        },
        {
          "data": {"name": "osc"},
          "mark": {"type": "rule", "strokeWidth": 2},
          "encoding": {
            "x": {"field": "i", "type": "quantitative", "axis": {"values": [0, 9, 18, 27, 36, 45, 54, 63, 72, 81, 90, 99, 108, 117, 126, 135, 144], "labelExpr": "timeFormat(datetime(2010, 4, 17, 9, 20 + datum.value), '%H:%M')", "tickSize": 6, "labelPadding": 2, "labelFlush": false, "labelOverlap": false, "title": null}},
            "y": {"field": "b", "type": "quantitative", "axis": {"orient": "right", "values": [300, 0], "tickSize": 6, "labelPadding": 2, "title": null}},
            "y2": {"datum": 0},
            "color": {"condition": {"test": "datum.b > 0", "value": "#0c7d0c"}, "value": "#8a0c0c"}
          }
        },
        {
          "data": {"name": "lv"},
          "mark": {"type": "rule", "strokeWidth": 3, "strokeDash": [7, 3.5]},
          "encoding": {
            "x": {"field": "a", "type": "quantitative"},
            "x2": {"field": "b"},
            "y": {"field": "v", "type": "quantitative"},
            "stroke": {"field": "k", "type": "nominal", "scale": {"domain": ["g", "r", "y"], "range": ["#178a17", "#8b0a0a", "#f0f000"]}, "legend": null}
          }
        },
        {
          "data": {"name": "osc"},
          "mark": {"type": "line", "color": "#000000", "strokeWidth": 3.5},
          "encoding": {
            "x": {"field": "i", "type": "quantitative"},
            "y": {"field": "b", "type": "quantitative"}
          }
        },
        {
          "data": {"name": "osc"},
          "mark": {
            "type": "line",
            "strokeWidth": 2,
            "stroke": {
              "gradient": "linear",
              "x1": 0, "y1": 0, "x2": 0, "y2": 1,
              "stops": [
                {"offset": 0, "color": "#3cc83c"},
                {"offset": 0.4706, "color": "#3cc83c"},
                {"offset": 0.4706, "color": "#ff1a1a"},
                {"offset": 1, "color": "#ff1a1a"}
              ]
            }
          },
          "encoding": {
            "x": {"field": "i", "type": "quantitative"},
            "y": {"field": "o", "type": "quantitative"}
          }
        },
        {
          "data": {"name": "zm"},
          "transform": [{"filter": "datum.k == 'g'"}],
          "mark": {"type": "point", "shape": "circle", "size": 70, "filled": true, "color": "#22cc22", "opacity": 1},
          "encoding": {
            "x": {"field": "i", "type": "quantitative"},
            "y": {"datum": 0, "type": "quantitative"}
          }
        },
        {
          "data": {"name": "zm"},
          "transform": [{"filter": "datum.k == 'r'"}],
          "mark": {"type": "point", "shape": "square", "size": 81, "filled": true, "color": "#ff0000", "opacity": 1},
          "encoding": {
            "x": {"field": "i", "type": "quantitative"},
            "y": {"datum": 0, "type": "quantitative"}
          }
        },
        {
          "data": {"name": "otag"},
          "mark": {"type": "point", "size": 4, "filled": true, "fill": "#c6beb4", "stroke": "#eeeeee", "strokeWidth": 1, "opacity": 1, "xOffset": 2},
          "encoding": {
            "x": {"value": "width"},
            "y": {"field": "v", "type": "quantitative"},
            "shape": {
              "field": "t", "type": "nominal", "legend": null,
              "scale": {
                "domain": ["200", "100", "-145", "-91.45", "-200"],
                "range": ["M0,0L8,-8L33,-8L33,8L8,8Z", "M0,0L8,-8L33,-8L33,8L8,8Z", "M0,0L8,-8L37,-8L37,8L8,8Z", "M0,0L8,-8L48,-8L48,8L8,8Z", "M0,0L8,-8L38,-8L38,8L8,8Z"]
              }
            }
          }
        },
        {
          "data": {"name": "otag"},
          "mark": {"type": "text", "align": "left", "baseline": "middle", "fontSize": 13, "color": "#151515", "xOffset": 10},
          "encoding": {
            "x": {"value": "width"},
            "y": {"field": "v", "type": "quantitative"},
            "text": {"field": "t"}
          }
        }
      ]
    }
  ]
}
